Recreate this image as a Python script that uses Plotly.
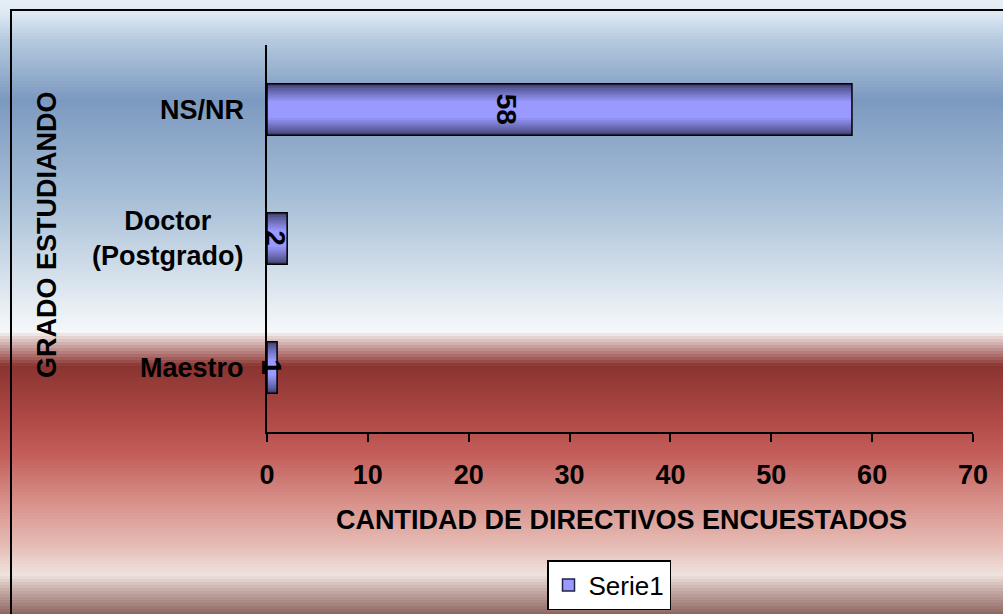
import plotly.graph_objects as go

# --- Data ---
categories = ["Maestro", "Doctor<br>(Postgrado)", "NS/NR"]
values = [1, 2, 58]
series_name = "Serie1"
x_ticks = [0, 10, 20, 30, 40, 50, 60, 70]
x_title = "CANTIDAD DE DIRECTIVOS ENCUESTADOS"
y_title = "GRADO ESTUDIANDO"

W, H = 1003, 614
L, R, T, B = 267, 30, 45, 182
PW, PH = W - L - R, H - T - B


def px_x(x):
    # page pixels -> paper coords
    return (x - L) / PW


def px_y(y):
    return (H - B - y) / PH


def hex_rgb(h):
    h = h.lstrip("#")
    return [int(h[i:i + 2], 16) for i in (0, 2, 4)]


def mix(c1, c2, t):
    a, b = hex_rgb(c1), hex_rgb(c2)
    return "rgb(%d,%d,%d)" % tuple(round(a[i] + (b[i] - a[i]) * t) for i in range(3))


# background gradient stops (pixel y, colour)
bg_stops = [
    (0, "#e6eef5"), (12, "#e0eaf3"), (40, "#b5cadf"), (100, "#7c99c0"),
    (200, "#a7bfd7"), (300, "#e3ebf2"), (332, "#f5f8fa"), (337, "#e6d4d3"),
    (366, "#8a3430"), (420, "#b04a47"), (455, "#c35e5a"), (500, "#d68f88"),
    (545, "#e5bbb4"), (575, "#efe3de"), (585, "#d4bdb8"), (614, "#8d6560"),
]

shapes = []
step = 3
for y0 in range(0, H, step):
    ym = y0 + step / 2
    for (ya, ca), (yb, cb) in zip(bg_stops[:-1], bg_stops[1:]):
        if ya <= ym <= yb:
            col = mix(ca, cb, (ym - ya) / (yb - ya))
            break
    shapes.append(dict(type="rect", xref="paper", yref="paper", layer="below",
                       x0=px_x(0), x1=px_x(W + 5), y0=px_y(y0 + step + 0.5), y1=px_y(y0),
                       fillcolor=col, line=dict(width=0)))

# outer frame
shapes.append(dict(type="rect", xref="paper", yref="paper", layer="above",
                   x0=px_x(11), x1=px_x(W + 10), y0=px_y(H + 2), y1=px_y(10),
                   fillcolor="rgba(0,0,0,0)", line=dict(color="black", width=2)))

fig = go.Figure()

# bars: layered to fake the cylinder-like shading
n_layers = 9
for k in range(n_layers):
    t = k / (n_layers - 1)
    fig.add_trace(go.Bar(
        x=values, y=categories, orientation="h",
        width=0.40 - 0.27 * t,
        marker=dict(color=mix("#404070", "#9999ff", t ** 0.8), line=dict(width=0)),
        showlegend=False, hoverinfo="skip",
    ))
# outline on top
fig.add_trace(go.Bar(
    x=values, y=categories, orientation="h", width=0.40,
    marker=dict(color="rgba(0,0,0,0)", line=dict(color="black", width=1.5)),
    showlegend=False, hoverinfo="skip",
))
# legend entry
fig.add_trace(go.Bar(
    x=[None], y=[None], orientation="h", name=series_name,
    marker=dict(color="#9999ff", line=dict(color="#222244", width=1.5)),
))

annotations = []
for cat, v in zip(categories, values):
    annotations.append(dict(x=v * 0.41, y=cat, xref="x", yref="y", text=str(v),
                            textangle=90, showarrow=False,
                            xanchor="center", yanchor="middle",
                            font=dict(size=28, color="black", weight="bold")))
    annotations.append(dict(x=px_x(246), y=cat, xref="paper", yref="y", text=cat,
                            xanchor="right", yanchor="middle", align="center",
                            showarrow=False,
                            font=dict(size=27, color="black", weight="bold")))

annotations.append(dict(x=px_x(47), y=px_y(235), xref="paper", yref="paper", text=y_title,
                        textangle=-90, showarrow=False, xanchor="center", yanchor="middle",
                        font=dict(size=27, color="black", weight="bold")))
annotations.append(dict(x=px_x(621), y=px_y(520), xref="paper", yref="paper", text=x_title,
                        showarrow=False, xanchor="center", yanchor="middle",
                        font=dict(size=27, color="black", weight="bold")))

fig.update_layout(
    width=W, height=H,
    margin=dict(l=L, r=R, t=T, b=B, autoexpand=False),
    barmode="overlay",
    paper_bgcolor="white",
    plot_bgcolor="rgba(0,0,0,0)",
    font=dict(family="Liberation Sans, Arial, sans-serif", color="black"),
    shapes=shapes,
    annotations=annotations,
    showlegend=True,
    legend=dict(xref="container", yref="container", x=609 / W, y=1 - 585 / H,
                xanchor="center", yanchor="middle",
                bgcolor="white", bordercolor="black", borderwidth=1.5,
                font=dict(size=26), itemwidth=30),
    xaxis=dict(range=[0, 70], tickvals=x_ticks, showgrid=False, zeroline=False,
               showline=True, linecolor="black", linewidth=2, automargin=False,
               ticks="outside", ticklen=8, tickwidth=2, tickcolor="black",
               ticklabelstandoff=10,
               tickfont=dict(size=27, weight="bold")),
    yaxis=dict(range=[-0.5, 2.5], categoryorder="array", categoryarray=categories,
               showgrid=False, zeroline=False, showline=True, linecolor="black",
               linewidth=2, showticklabels=False, ticks="", automargin=False),
)

# drop the default page margin so the figure fills the window exactly
fig.write_html("out.html", config={"displayModeBar": False},
               post_script="document.body.style.margin='0';")
